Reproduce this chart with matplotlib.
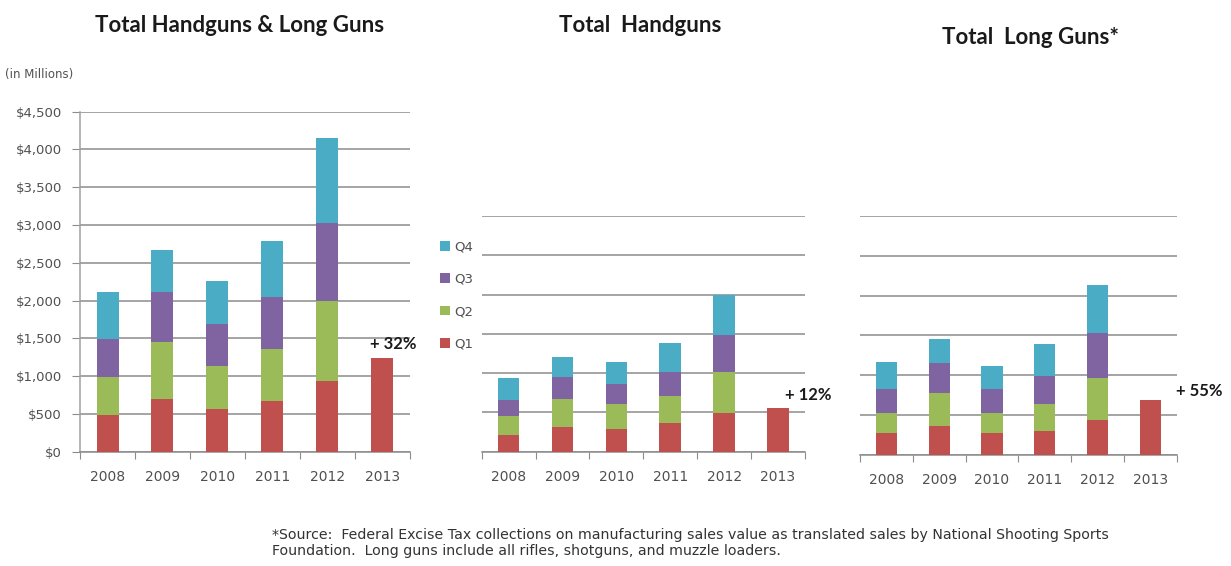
import matplotlib
matplotlib.use("Agg")
import matplotlib.pyplot as plt
import numpy as np

plt.rcParams['font.family'] = ['Lato', 'DejaVu Sans']

years = ["2008", "2009", "2010", "2011", "2012", "2013"]
quarters = ["Q1", "Q2", "Q3", "Q4"]
colors = {"Q1": "#C0504D", "Q2": "#9BBB59", "Q3": "#8064A2", "Q4": "#4BACC6"}

# Total handguns & long guns (in $ millions)
total_q1 = [485, 693, 560, 671, 936, 1240]
total_q2 = [508, 763, 574, 684, 1059, 0]
total_q3 = [494, 658, 552, 688, 1028, 0]
total_q4 = [627, 556, 573, 750, 1134, 0]

# Total handguns
hand_q1 = [212, 309, 292, 360, 487, 551]
hand_q2 = [241, 356, 314, 352, 521, 0]
hand_q3 = [204, 280, 254, 296, 475, 0]
hand_q4 = [275, 263, 276, 369, 509, 0]

# Total long guns
long_q1 = [272, 368, 272, 301, 439, 690]
long_q2 = [251, 406, 251, 339, 523, 0]
long_q3 = [301, 377, 301, 356, 574, 0]
long_q4 = [339, 301, 293, 393, 598, 0]

yticks_left = [0, 500, 1000, 1500, 2000, 2500, 3000, 3500, 4000, 4500]
ytick_labels_left = ["$0", "$500", "$1,000", "$1,500", "$2,000", "$2,500",
                     "$3,000", "$3,500", "$4,000", "$4,500"]
yticks_small = [0, 500, 1000, 1500, 2000, 2500, 3000]

titles = ["Total Handguns & Long Guns", "Total  Handguns", "Total  Long Guns*"]
annotations = ["+ 32%", "+ 12%", "+ 55%"]

fig = plt.figure(figsize=(12.31, 5.66), dpi=100)
fig.patch.set_facecolor("white")

grid_color = "#8C8C8C"
label_color = "#505050"


def draw_panel(ax, series, yticks, ymax, show_yaxis, ann, ann_offset):
    x = np.arange(len(years))
    bottom = np.zeros(len(years))
    for q, vals in zip(quarters, series):
        vals = np.array(vals, dtype=float)
        ax.bar(x, vals, width=0.4, bottom=bottom, color=colors[q],
               label=q, zorder=3, linewidth=0)
        bottom += vals
    ax.set_xlim(-0.5, len(years) - 0.5)
    ax.set_ylim(0, ymax)
    ax.set_yticks(yticks)
    ax.yaxis.grid(True, color=grid_color, linewidth=1.1, zorder=0)
    ax.set_axisbelow(True)
    ax.set_xticks(np.arange(-0.5, len(years), 1.0))
    ax.set_xticklabels([])
    ax.set_xticks(x, minor=True)
    ax.set_xticklabels(years, minor=True, fontsize=10, color=label_color,
                       family=["DejaVu Sans"])
    ax.tick_params(axis="x", which="major", length=5, color=grid_color,
                   direction="out")
    ax.tick_params(axis="x", which="minor", length=0, pad=13)
    for s in ["top", "right"]:
        ax.spines[s].set_visible(False)
    ax.spines["bottom"].set_color(grid_color)
    ax.spines["bottom"].set_linewidth(1.1)
    if show_yaxis:
        ax.spines["left"].set_color("#A0A0A0")
        ax.spines["left"].set_linewidth(1.1)
        ax.set_yticklabels(ytick_labels_left, fontsize=9.5, color=label_color,
                           family=["DejaVu Sans"])
        ax.tick_params(axis="y", length=6, color=grid_color, pad=7)
    else:
        ax.spines["left"].set_visible(False)
        ax.set_yticklabels([])
        ax.tick_params(axis="y", length=0)
    ax.annotate(ann, xy=(5, series[0][5]), xytext=ann_offset,
                textcoords="offset points", fontsize=12, fontweight="bold",
                ha="center", va="bottom", color="#1A1A1A")


# Left panel
ax1 = fig.add_axes([0.065, 0.202, 0.268, 0.6007])
draw_panel(ax1, [total_q1, total_q2, total_q3, total_q4], yticks_left, 4500,
           True, annotations[0], (8, 4))

# Middle panel
ax2 = fig.add_axes([0.3913, 0.202, 0.2626, 0.4164])
draw_panel(ax2, [hand_q1, hand_q2, hand_q3, hand_q4], yticks_small, 3000,
           False, annotations[1], (22, 4))

# Right panel
ax3 = fig.add_axes([0.6986, 0.1961, 0.2575, 0.4223])
draw_panel(ax3, [long_q1, long_q2, long_q3, long_q4], yticks_small, 3000,
           False, annotations[2], (35, 1))

# Legend (between left and middle panels)
handles, labels = ax1.get_legend_handles_labels()
fig.legend(handles[::-1], labels[::-1], loc="upper left",
           bbox_to_anchor=(0.348, 0.596), frameon=False,
           prop={"family": ["DejaVu Sans"], "size": 9.5},
           handlelength=0.75, handleheight=0.75, handletextpad=0.3,
           labelspacing=1.46, labelcolor=label_color)

# Titles
fig.text(0.195, 0.955, titles[0], fontsize=16, fontweight="bold",
         ha="center", va="center", color="#1A1A1A")
fig.text(0.520, 0.955, titles[1], fontsize=16, fontweight="bold",
         ha="center", va="center", color="#1A1A1A")
fig.text(0.837, 0.934, titles[2], fontsize=16, fontweight="bold",
         ha="center", va="center", color="#1A1A1A")

fig.text(0.004, 0.868, "(in Millions)", fontsize=8.5, ha="left", va="center",
         color=label_color, family=["DejaVu Sans"])

fig.text(0.221, 0.040,
         "*Source:  Federal Excise Tax collections on manufacturing sales value as translated sales by National Shooting Sports\n"
         "Foundation.  Long guns include all rifles, shotguns, and muzzle loaders.",
         fontsize=10.2, ha="left", va="center", color="#333333",
         linespacing=1.2, family=["DejaVu Sans"])

fig.savefig("out.png", dpi=100)
